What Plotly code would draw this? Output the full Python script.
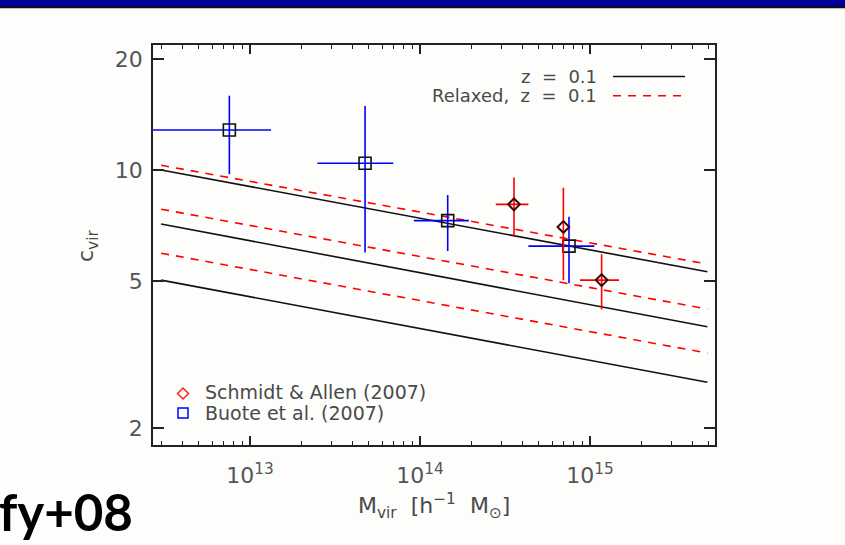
import plotly.graph_objects as go

# ---------------- data ----------------
# model relation endpoints (mass in h^-1 Msun, concentration)
line_mass = [3.0e12, 4.9e15]
full_c_upper = [10.0, 5.30]
full_c_mean = [7.14, 3.76]
full_c_lower = [5.03, 2.66]
relaxed_c_upper = [10.3, 5.56]
relaxed_c_mean = [7.83, 4.20]
relaxed_c_lower = [5.95, 3.19]

# Schmidt & Allen (2007)
sa_mass = [3.57e14, 6.97e14, 1.17e15]
sa_mass_lo = [2.79e14, 6.97e14, 8.73e14]
sa_mass_hi = [4.34e14, 6.97e14, 1.48e15]
sa_c = [8.07, 7.01, 5.03]
sa_c_lo = [6.60, 5.03, 4.19]
sa_c_hi = [9.55, 8.95, 5.91]

# Buote et al. (2007)
bu_mass = [7.56e12, 4.75e13, 1.455e14, 7.52e14]
bu_mass_lo = [2.0e12, 2.49e13, 9.2e13, 4.34e14]
bu_mass_hi = [1.33e13, 6.96e13, 1.94e14, 1.06e15]
bu_c = [12.83, 10.43, 7.29, 6.22]
bu_c_lo = [9.75, 5.98, 6.03, 4.93]
bu_c_hi = [15.9, 14.9, 8.55, 7.47]

x_tickvals = [1e13, 1e14, 1e15]
x_ticktext = ["10<sup>13</sup>", "10<sup>14</sup>", "10<sup>15</sup>"]
x_minor = [3e12, 4e12, 5e12, 6e12, 7e12, 8e12, 9e12,
           2e13, 3e13, 4e13, 5e13, 6e13, 7e13, 8e13, 9e13,
           2e14, 3e14, 4e14, 5e14, 6e14, 7e14, 8e14, 9e14,
           2e15, 3e15, 4e15, 5e15]
y_tickvals = [2, 5, 10, 20]
y_ticktext = ["2", "5", "10", "20"]

legend_lines = ["z = 0.1", "Relaxed, z = 0.1"]
legend_points = ["Schmidt & Allen (2007)", "Buote et al. (2007)"]

# ---------------- figure ----------------
W, H = 845, 545
L, R, T, B = 153, 130, 45, 100
PW, PH = W - L - R, H - T - B


def px(x):
    return (x - L) / PW


def py(y):
    return (H - B - y) / PH


FONT = "DejaVu Sans"
TXT = "#4a4a4a"
AX = "#222222"

fig = go.Figure()

for c in (full_c_upper, full_c_mean, full_c_lower):
    fig.add_trace(go.Scatter(x=line_mass, y=c, mode="lines",
                             line=dict(color="#111111", width=1.6),
                             hoverinfo="skip", showlegend=False))
for c in (relaxed_c_upper, relaxed_c_mean, relaxed_c_lower):
    fig.add_trace(go.Scatter(x=line_mass, y=c, mode="lines",
                             line=dict(color="#ff0000", width=1.6, dash="8px,7px"),
                             hoverinfo="skip", showlegend=False))


def err(v, lo, hi):
    plus = [h - x for x, h in zip(v, hi)]
    minus = [x - l for x, l in zip(v, lo)]
    return plus, minus


bx_p, bx_m = err(bu_mass, bu_mass_lo, bu_mass_hi)
by_p, by_m = err(bu_c, bu_c_lo, bu_c_hi)
fig.add_trace(go.Scatter(
    x=bu_mass, y=bu_c, mode="markers",
    marker=dict(symbol="square-open", size=12, color="#111111", line=dict(width=1.6)),
    error_x=dict(type="data", symmetric=False, array=bx_p, arrayminus=bx_m,
                 color="#0000ff", thickness=1.6, width=0),
    error_y=dict(type="data", symmetric=False, array=by_p, arrayminus=by_m,
                 color="#0000ff", thickness=1.6, width=0),
    showlegend=False, name=legend_points[1]))

sx_p, sx_m = err(sa_mass, sa_mass_lo, sa_mass_hi)
sy_p, sy_m = err(sa_c, sa_c_lo, sa_c_hi)
fig.add_trace(go.Scatter(
    x=sa_mass, y=sa_c, mode="markers",
    marker=dict(symbol="diamond-open", size=9, color="#3a0808", line=dict(width=2)),
    error_x=dict(type="data", symmetric=False, array=sx_p, arrayminus=sx_m,
                 color="#ff0000", thickness=1.6, width=0),
    error_y=dict(type="data", symmetric=False, array=sy_p, arrayminus=sy_m,
                 color="#ff0000", thickness=1.6, width=0),
    showlegend=False, name=legend_points[0]))

shapes = []
annotations = []

# slide header band
shapes.append(dict(type="rect", xref="paper", yref="paper", x0=px(0), x1=px(W),
                   y0=py(0), y1=py(6), fillcolor="#000099", line=dict(width=0), layer="above"))
shapes.append(dict(type="rect", xref="paper", yref="paper", x0=px(0), x1=px(W),
                   y0=py(6), y1=py(8), fillcolor="#0a0a30", line=dict(width=0), layer="above"))
shapes.append(dict(type="line", xref="paper", yref="paper", x0=px(0), x1=px(W),
                   y0=py(8.6), y1=py(8.6), line=dict(color="#b8b8b0", width=1)))

# top-right legend
annotations.append(dict(xref="paper", yref="paper", x=px(599), y=py(77),
                        text="z\u00a0 =\u00a0 0.1", showarrow=False, xanchor="right",
                        yanchor="middle", font=dict(family=FONT, size=18, color=TXT)))
annotations.append(dict(xref="paper", yref="paper", x=px(599), y=py(95.5),
                        text="Relaxed,\u00a0 z\u00a0 =\u00a0 0.1", showarrow=False, xanchor="right",
                        yanchor="middle", font=dict(family=FONT, size=18, color=TXT)))
shapes.append(dict(type="line", xref="paper", yref="paper", x0=px(613), x1=px(685),
                   y0=py(76.5), y1=py(76.5), line=dict(color="#111111", width=1.6)))
shapes.append(dict(type="line", xref="paper", yref="paper", x0=px(613), x1=px(685),
                   y0=py(95.7), y1=py(95.7), line=dict(color="#ff0000", width=1.6, dash="8px,7px")))

# bottom-left legend
cx, cy, r = 183, 393.5, 5.5
shapes.append(dict(type="path", xref="paper", yref="paper",
                   path=f"M {px(cx - r)} {py(cy)} L {px(cx)} {py(cy - r)} L {px(cx + r)} {py(cy)} L {px(cx)} {py(cy + r)} Z",
                   line=dict(color="#ff2020", width=1.5)))
cy2, s = 413, 5
shapes.append(dict(type="rect", xref="paper", yref="paper", x0=px(cx - s), x1=px(cx + s),
                   y0=py(cy2 + s), y1=py(cy2 - s), line=dict(color="#0000ff", width=1.5)))
annotations.append(dict(xref="paper", yref="paper", x=px(203), y=py(392),
                        text=legend_points[0], showarrow=False, xanchor="left", yanchor="middle",
                        font=dict(family=FONT, size=19, color=TXT)))
annotations.append(dict(xref="paper", yref="paper", x=px(203), y=py(413),
                        text=legend_points[1], showarrow=False, xanchor="left", yanchor="middle",
                        font=dict(family=FONT, size=19, color=TXT)))

# axis titles
annotations.append(dict(xref="paper", yref="paper", x=px(434), y=py(506),
                        text="M<sub>vir</sub>\u00a0 [h<sup>\u22121</sup>\u00a0 M<sub>\u2299</sub>]",
                        showarrow=False, xanchor="center", yanchor="middle",
                        font=dict(family=FONT, size=22, color=TXT)))
annotations.append(dict(xref="paper", yref="paper", x=px(88), y=py(246),
                        text="c<sub>vir</sub>", textangle=-90,
                        showarrow=False, xanchor="center", yanchor="middle",
                        font=dict(family=FONT, size=22, color=TXT)))

# slide text
annotations.append(dict(xref="paper", yref="paper", x=px(-3), y=py(511),
                        text="<b>fy+08</b>", showarrow=False, xanchor="left", yanchor="middle",
                        font=dict(family="Lato", size=51, color="#000000")))

fig.update_layout(
    width=W, height=H, autosize=False,
    margin=dict(l=L, r=R, t=T, b=B, pad=0),
    paper_bgcolor="#fdfdfb", plot_bgcolor="#fdfdfb",
    showlegend=False,
    shapes=shapes, annotations=annotations,
    xaxis=dict(type="log", range=[12.4294, 15.735],
               tickmode="array", tickvals=x_tickvals, ticktext=x_ticktext,
               ticks="inside", ticklen=9, tickwidth=1.5, tickcolor=AX,
               showline=True, linecolor=AX, linewidth=1.6, mirror="allticks",
               showgrid=False, zeroline=False,
               tickfont=dict(family=FONT, size=22, color="#555555"),
               ticklabelstandoff=10,
               minor=dict(tickmode="array", tickvals=x_minor, ticks="inside", ticklen=4,
                          tickwidth=1.2, tickcolor=AX, showgrid=False)),
    yaxis=dict(type="log", range=[0.2547, 1.3388],
               tickmode="array", tickvals=y_tickvals, ticktext=y_ticktext,
               ticks="inside", ticklen=11, tickwidth=1.5, tickcolor=AX,
               showline=True, linecolor=AX, linewidth=1.6, mirror="allticks",
               showgrid=False, zeroline=False,
               tickfont=dict(family=FONT, size=22, color="#555555"),
               ticklabelstandoff=4),
)

fig.write_html("out.html", config={"displayModeBar": False},
               post_script="document.body.style.margin='0';document.body.style.background='#fdfdfb';")
